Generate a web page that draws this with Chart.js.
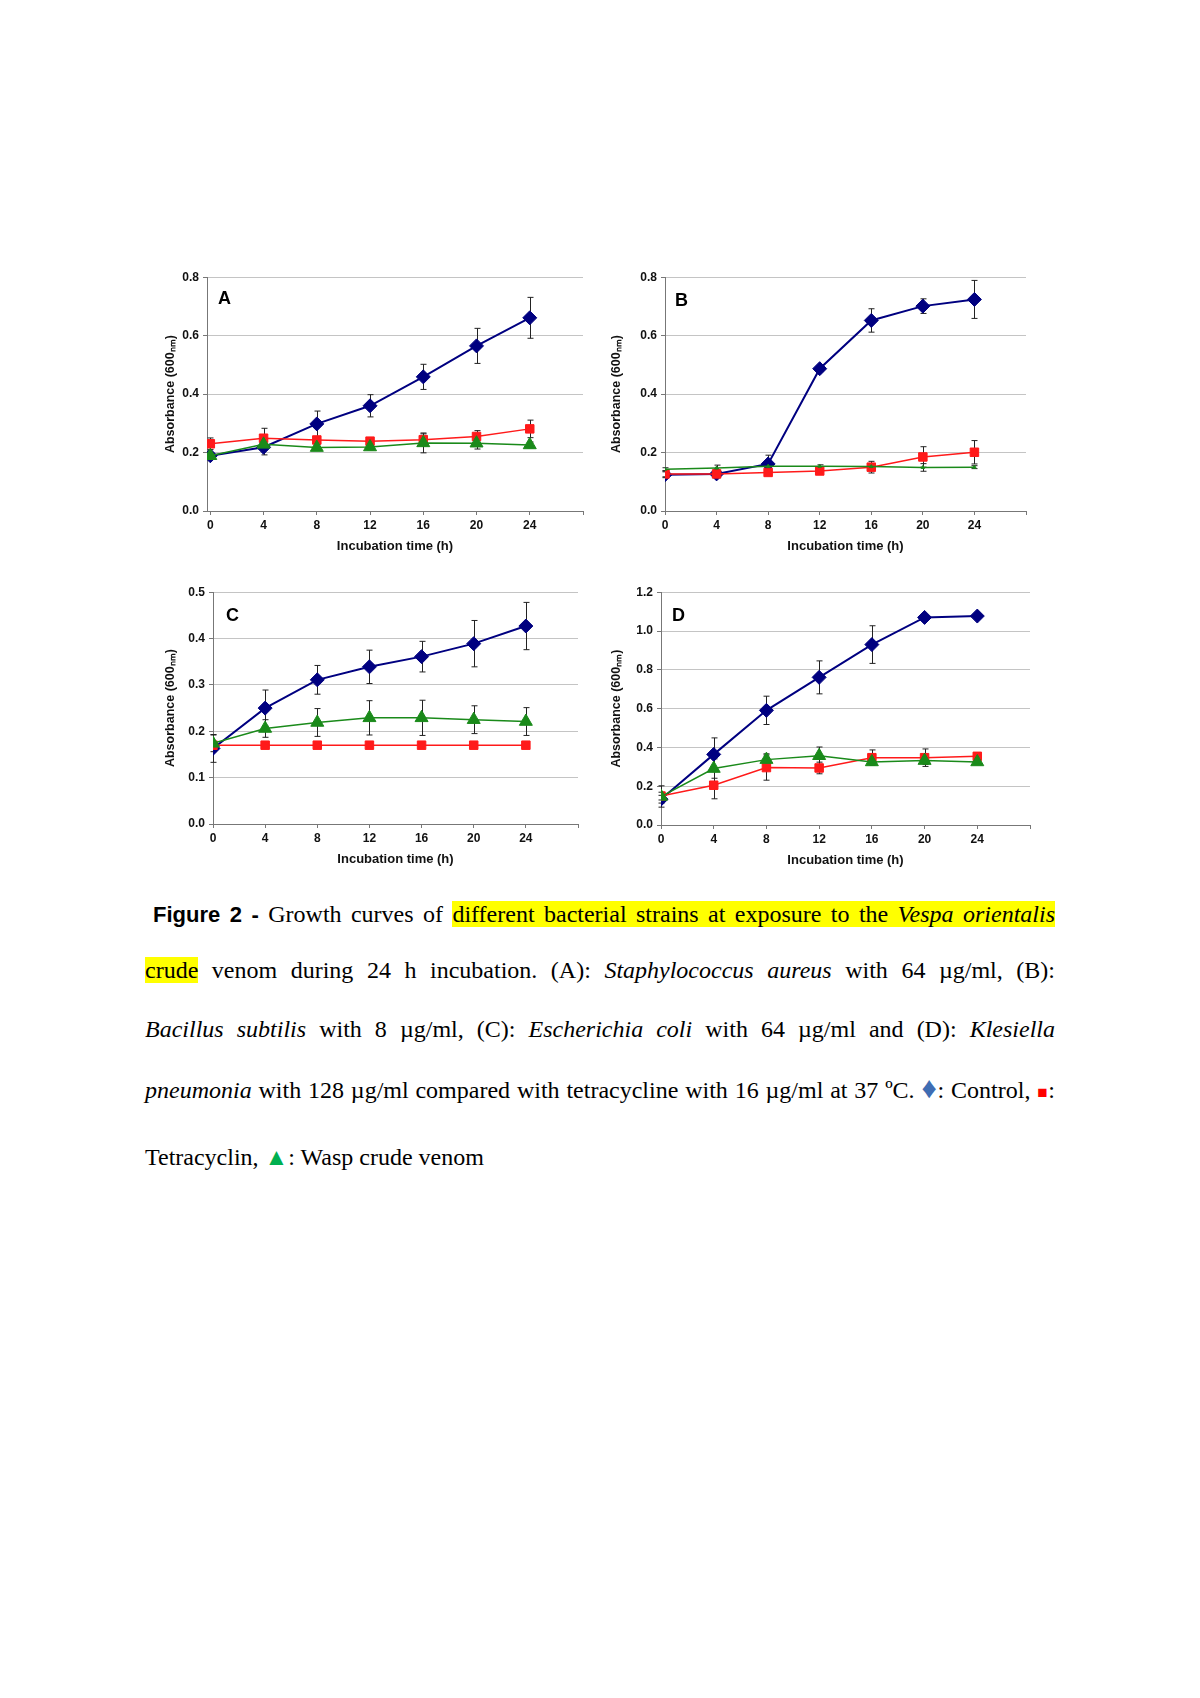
<!DOCTYPE html>
<html>
<head>
<meta charset="utf-8">
<script src="https://cdn.jsdelivr.net/npm/chart.js@4/dist/chart.umd.min.js"></script>
<style>
  html, body { margin:0; padding:0; background:#fff; }
  body { width:1200px; height:1698px; position:relative; overflow:hidden; }
  canvas { position:absolute; }
  .cap { position:absolute; left:145px; width:910px; font-family:"Liberation Serif","Times New Roman",serif; font-size:24px; line-height:28px; color:#000; white-space:nowrap; }
  .just { text-align:justify; text-align-last:justify; white-space:normal; }
  .hl { background:#ffff00; }
  .fig { font-family:"Liberation Sans",Arial,sans-serif; font-weight:bold; font-size:22px; }
</style>
</head>
<body>
<canvas id="cA"></canvas>
<canvas id="cB"></canvas>
<canvas id="cC"></canvas>
<canvas id="cD"></canvas>

<div class="cap just" style="top:900px; left:153px; width:902px;"><span class="fig">Figure 2 -</span> Growth curves of <span class="hl">different bacterial strains at exposure to the <i>Vespa orientalis</i></span></div>
<div class="cap just" style="top:956px;"><span class="hl">crude</span> venom during 24 h incubation. (A): <i>Staphylococcus aureus</i> with 64 µg/ml, (B):</div>
<div class="cap just" style="top:1015px;"><i>Bacillus subtilis</i> with 8 µg/ml, (C): <i>Escherichia coli</i> with 64 µg/ml and (D): <i>Klesiella</i></div>
<div class="cap just" style="top:1076px;"><i>pneumonia</i> with 128 µg/ml compared with tetracycline with 16 µg/ml at 37 ºC. <span style="color:#3f6db3;font-size:30px;line-height:20px">♦</span>: Control, <span style="color:#ff0000;font-size:17px">■</span>:</div>
<div class="cap" style="top:1143px;">Tetracyclin, <span style="color:#00b050;font-size:24px">▲</span>: Wasp crude venom</div>

<script>
// ---------- DATA ----------
const hours = [0, 4, 8, 12, 16, 20, 24];
const xTickValues = [0, 4, 8, 12, 16, 20, 24, 28];
const seriesNames = ["Control", "Tetracyclin", "Wasp crude venom"];
const panelLabels = ["A", "B", "C", "D"];
const yTitle = "Absorbance (600ₙₘ)";
const xTitle = "Incubation time (h)";

// Panel A: Staphylococcus aureus
const aControl    = [0.189, 0.218, 0.298, 0.360, 0.459, 0.565, 0.661];
const aControlErr = [0.010, 0.026, 0.044, 0.038, 0.043, 0.060, 0.070];
const aTetra      = [0.230, 0.249, 0.243, 0.239, 0.244, 0.255, 0.281];
const aTetraErr   = [0.020, 0.034, 0.010, 0.010, 0.020, 0.020, 0.030];
const aVenom      = [0.189, 0.228, 0.217, 0.219, 0.233, 0.232, 0.226];
const aVenomErr   = [0.010, 0.010, 0.010, 0.010, 0.034, 0.020, 0.010];

// Panel B: Bacillus subtilis
const bControl    = [0.124, 0.127, 0.161, 0.487, 0.652, 0.701, 0.724];
const bControlErr = [0.010, 0.010, 0.030, 0.010, 0.040, 0.025, 0.065];
const bTetra      = [0.127, 0.127, 0.132, 0.137, 0.150, 0.185, 0.201];
const bTetraErr   = [0.010, 0.010, 0.005, 0.005, 0.020, 0.035, 0.040];
const bVenom      = [0.143, 0.147, 0.153, 0.153, 0.152, 0.149, 0.150];
const bVenomErr   = [0.005, 0.010, 0.005, 0.005, 0.005, 0.013, 0.005];

// Panel C: Escherichia coli
const cControl    = [0.163, 0.250, 0.311, 0.339, 0.361, 0.389, 0.427];
const cControlErr = [0.030, 0.039, 0.031, 0.036, 0.033, 0.050, 0.051];
const cTetra      = [0.170, 0.170, 0.170, 0.170, 0.170, 0.170, 0.170];
const cTetraErr   = [0, 0, 0, 0, 0, 0, 0];
const cVenom      = [0.174, 0.206, 0.219, 0.229, 0.229, 0.225, 0.221];
const cVenomErr   = [0.018, 0.019, 0.030, 0.037, 0.038, 0.030, 0.030];

// Panel D: Klesiella pneumonia
const dControl    = [0.133, 0.364, 0.591, 0.761, 0.930, 1.070, 1.077];
const dControlErr = [0.020, 0.085, 0.073, 0.085, 0.097, 0, 0];
const dTetra      = [0.149, 0.205, 0.296, 0.294, 0.347, 0.347, 0.354];
const dTetraErr   = [0.020, 0.070, 0.065, 0.030, 0.040, 0.045, 0.010];
const dVenom      = [0.147, 0.291, 0.337, 0.357, 0.325, 0.332, 0.325];
const dVenomErr   = [0.055, 0.050, 0.030, 0.045, 0.010, 0.020, 0.010];

// y-axis ranges per panel
const yMaxA = 0.8, yStepA = 0.2;
const yMaxB = 0.8, yStepB = 0.2;
const yMaxC = 0.5, yStepC = 0.1;
const yMaxD = 1.2, yStepD = 0.2;

// ---------- STYLE ----------
const COL_BLUE = "#000080", COL_RED = "#ff1a1a", COL_GREEN = "#1a8a1a";
const FONT = "'Liberation Sans', Arial, sans-serif";

const pairs = (ys) => hours.map((h, i) => ({ x: h, y: ys[i] }));

const errorBarPlugin = {
  id: "errorBars",
  beforeDatasetsDraw(chart) {
    const ctx = chart.ctx, xs = chart.scales.x, ys = chart.scales.y;
    ctx.save();
    ctx.strokeStyle = "#222";
    ctx.lineWidth = 1;
    chart.data.datasets.forEach(ds => {
      (ds.errors || []).forEach((e, i) => {
        if (!e) return;
        const p = ds.data[i];
        const x = Math.round(xs.getPixelForValue(p.x)) + 0.5;
        const y1 = ys.getPixelForValue(p.y + e), y2 = ys.getPixelForValue(p.y - e);
        ctx.beginPath();
        ctx.moveTo(x, y1); ctx.lineTo(x, y2);
        ctx.moveTo(x - 3, y1); ctx.lineTo(x + 3, y1);
        ctx.moveTo(x - 3, y2); ctx.lineTo(x + 3, y2);
        ctx.stroke();
      });
    });
    ctx.restore();
  }
};

const panelLetterPlugin = {
  id: "panelLetter",
  afterDraw(chart, args, opts) {
    const ctx = chart.ctx, a = chart.chartArea;
    ctx.save();
    ctx.font = "bold 18px " + FONT;
    ctx.fillStyle = "#000";
    ctx.textBaseline = "alphabetic";
    ctx.fillText(opts.text, a.left + opts.dx, a.top + opts.dy);
    ctx.restore();
  }
};

function makePanel(id, geo, letter, ctrl, ctrlErr, tet, tetErr, ven, venErr, yMax, yStep, xMin, venRadius) {
  const cv = document.getElementById(id);
  const W = geo.w, plotW = geo.pw, plotH = geo.ph;
  cv.width = W + plotW + 10;
  cv.height = 10 + plotH + 48;
  cv.style.left = geo.left + "px";
  cv.style.top = geo.top + "px";
  cv.style.width = cv.width + "px";
  cv.style.height = cv.height + "px";
  new Chart(cv, {
    type: "line",
    data: {
      datasets: [
        { label: seriesNames[0], data: pairs(ctrl), errors: ctrlErr, borderColor: COL_BLUE, backgroundColor: COL_BLUE,
          borderWidth: 2, pointStyle: "rectRot", pointRadius: 7, pointBorderWidth: 1, order: 3 },
        { label: seriesNames[1], data: pairs(tet), errors: tetErr, borderColor: COL_RED, backgroundColor: COL_RED,
          borderWidth: 1.5, pointStyle: "rect", pointRadius: 6, pointBorderWidth: 1, order: 2 },
        { label: seriesNames[2], data: pairs(ven), errors: venErr, borderColor: COL_GREEN, backgroundColor: COL_GREEN,
          borderWidth: 1.5, pointStyle: "triangle", pointRadius: venRadius, pointBorderWidth: 1, order: 1 }
      ]
    },
    options: {
      responsive: false,
      animation: false,
      devicePixelRatio: 1,
      layout: { padding: { top: 10, right: 10, left: 0, bottom: 0 } },
      plugins: {
        legend: { display: false },
        tooltip: { enabled: false },
        panelLetter: { text: letter, dx: geo.lx, dy: geo.ly }
      },
      scales: {
        x: {
          type: "linear", min: xMin, max: 28,
          afterBuildTicks: s => { s.ticks = xTickValues.map(v => ({ value: v })); },
          afterFit: s => { s.height = 48; },
          ticks: { color: "#111", font: { family: FONT, size: 12, weight: "bold" }, padding: 3, maxRotation: 0,
                   callback: v => (hours.includes(v) ? String(v) : "") },
          grid: { drawOnChartArea: false, drawTicks: true, tickLength: 4, tickColor: "#777" },
          border: { color: "#777", width: 1 },
          title: { display: true, text: xTitle, color: "#111", font: { family: FONT, size: 13, weight: "bold" }, padding: { top: 4, bottom: 5 } }
        },
        y: {
          min: 0, max: yMax,
          afterFit: s => { s.width = W; },
          ticks: { stepSize: yStep, color: "#111", font: { family: FONT, size: 12, weight: "bold" }, padding: 4,
                   callback: v => Number(v).toFixed(1) },
          grid: { color: "#c4c4c4", lineWidth: 1, drawTicks: true, tickLength: 4, tickColor: "#777" },
          border: { color: "#777", width: 1 },
          title: { display: true, text: yTitle, color: "#111", font: { family: FONT, size: 12.5, weight: "bold" }, padding: { top: 1, bottom: 0 } }
        }
      }
    },
    plugins: [errorBarPlugin, panelLetterPlugin]
  });
}

makePanel("cA", { left: 162, top: 266, w: 45, pw: 376, ph: 235, lx: 11, ly: 27 }, panelLabels[0],
  aControl, aControlErr, aTetra, aTetraErr, aVenom, aVenomErr, yMaxA, yStepA, -0.25, 7.5);
makePanel("cB", { left: 608, top: 266, w: 57, pw: 361, ph: 235, lx: 10, ly: 29 }, panelLabels[1],
  bControl, bControlErr, bTetra, bTetraErr, bVenom, bVenomErr, yMaxB, yStepB, 0, 2);
makePanel("cC", { left: 162, top: 581, w: 51, pw: 365, ph: 233, lx: 13, ly: 29 }, panelLabels[2],
  cControl, cControlErr, cTetra, cTetraErr, cVenom, cVenomErr, yMaxC, yStepC, 0, 7.5);
makePanel("cD", { left: 608, top: 581, w: 53, pw: 369, ph: 234, lx: 11, ly: 29 }, panelLabels[3],
  dControl, dControlErr, dTetra, dTetraErr, dVenom, dVenomErr, yMaxD, yStepD, 0, 7.5);
</script>
</body>
</html>
